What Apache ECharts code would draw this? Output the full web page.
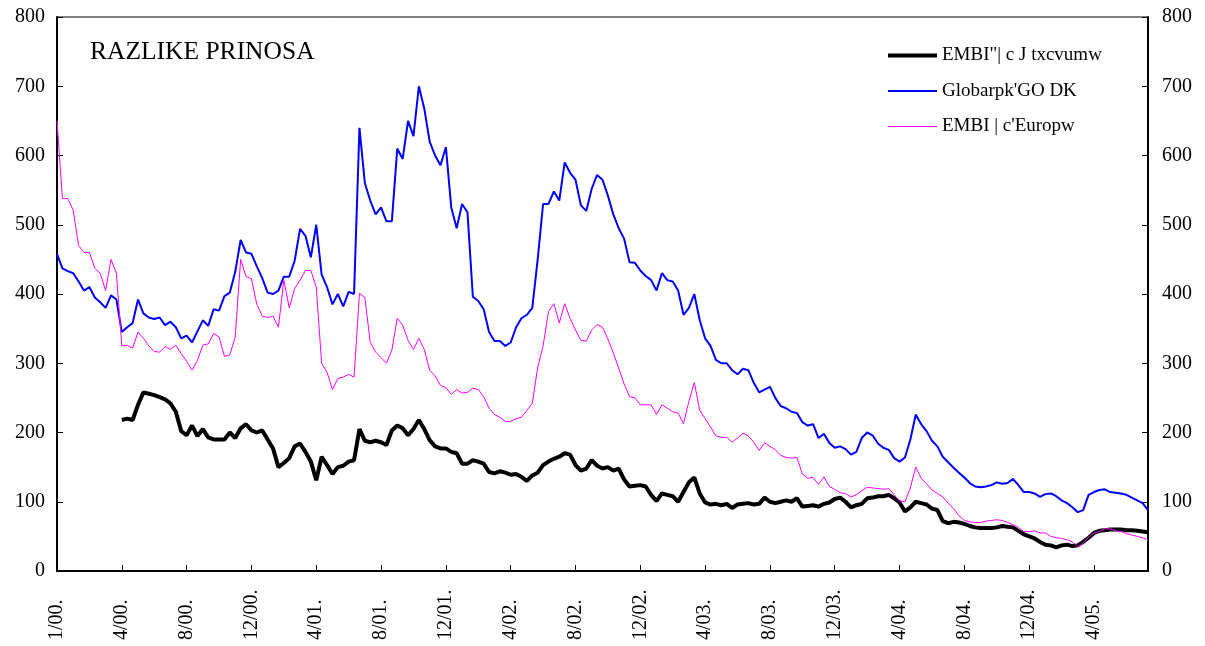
<!DOCTYPE html>
<html>
<head>
<meta charset="utf-8">
<script src="https://cdn.jsdelivr.net/npm/echarts@6/dist/echarts.min.js"></script>
<style>html,body{margin:0;padding:0;background:#fff}#c{width:1205px;height:646px}</style>
</head>
<body>
<div id="c"></div>
<script>
var tickLabels = ["1/00.","4/00.","8/00.","12/00.","4/01.","8/01.","12/01.","4/02.","8/02.","12/02.","4/03.","8/03.","12/03.","4/04.","8/04.","12/04.","4/05."];
var pointsPerTick = 12;
var seriesNames = ["EMBI\"| c J txcvumw", "Globarpk'GO DK", "EMBI | c'Europw"];

var embiGlobal = [null,null,null,null,null,null,null,null,null,null,null,null,
218,220,218,240,258,256,254,251,248,242,230,202,196,210,195,205,193,190,190,190,200,192,206,212,203,200,203,190,177,150,156,163,180,184,172,158,131,165,153,140,150,152,158,160,
205,188,186,188,186,182,203,210,206,196,205,218,205,189,180,177,177,172,170,155,155,160,158,155,143,141,144,142,139,140,136,130,138,142,153,158,162,165,170,168,
153,145,148,160,152,148,150,145,148,132,122,123,124,122,110,101,112,110,108,100,114,128,135,112,99,96,97,95,97,91,96,97,98,96,97,106,100,98,100,102,
100,105,93,94,95,93,97,99,104,106,100,92,95,97,105,106,108,108,110,105,99,86,92,100,98,96,90,88,72,69,71,70,68,65,63,62,62,62,63,65,
64,63,58,53,50,47,42,38,37,34,37,38,36,37,42,48,55,58,59,60,60,60,59,59,58,57,56];

var globalEMBI = [458,437,433,430,418,405,410,395,388,380,398,392,345,352,358,392,372,366,364,366,355,360,352,336,340,330,346,362,354,378,376,397,402,432,478,460,458,440,423,402,
400,405,425,425,448,494,484,453,500,428,410,385,400,382,403,400,640,560,535,515,525,505,505,610,595,650,628,700,668,620,600,586,612,525,495,530,518,396,390,378,
345,332,332,325,330,352,365,370,380,450,530,530,548,535,590,575,565,528,520,552,572,565,542,515,495,480,446,445,434,426,420,405,430,420,418,405,370,380,400,362,
336,325,305,300,300,290,284,292,290,272,258,262,266,250,238,235,230,228,215,210,212,192,198,185,178,180,176,168,172,192,200,196,184,178,175,163,158,164,190,226,
212,202,188,180,165,157,149,142,135,127,122,121,122,124,128,126,127,133,124,114,114,112,107,111,112,108,102,98,92,85,88,110,114,117,118,114,113,112,110,106,
102,98,88];

var embiEurope = [650,538,538,521,470,460,460,437,430,405,450,430,325,326,322,345,336,325,317,316,324,320,326,314,303,290,304,326,328,343,338,310,312,338,450,425,422,385,368,366,
368,352,420,380,408,420,434,434,410,300,287,262,278,280,284,280,401,395,330,316,308,300,319,365,355,333,320,336,320,290,282,268,265,255,262,257,258,264,262,252,
235,226,222,216,216,220,222,232,242,294,325,375,386,358,386,365,348,333,332,348,356,352,335,315,293,270,252,250,240,240,240,226,240,235,230,228,213,245,272,232,
220,208,195,193,193,186,192,199,195,186,174,185,180,175,167,164,163,164,140,134,135,125,136,122,118,113,112,107,110,116,121,120,119,118,119,110,101,100,120,150,
134,126,117,112,107,98,90,80,73,71,70,70,72,73,74,73,70,67,63,57,57,58,55,55,50,48,47,45,42,35,40,49,55,57,61,61,58,57,54,52,
50,48,45];

var categories = [];
for (var i = 0; i < globalEMBI.length; i++) categories.push(String(i));

var serif = "'Liberation Serif','Times New Roman',serif";
var chart = echarts.init(document.getElementById('c'));
var isTick = function (idx) { return idx % pointsPerTick === 0; };

chart.setOption({
  animation: false,
  backgroundColor: '#fff',
  title: {
    text: 'RAZLIKE PRINOSA', left: 85, top: 34,
    textStyle: { fontFamily: serif, fontSize: 25.5, fontWeight: 'normal', color: '#000' }
  },
  legend: {
    orient: 'vertical', left: 886, top: 46, padding: 0,
    itemWidth: 49, itemHeight: 20, itemGap: 16.5,
    itemStyle: { opacity: 0 },
    textStyle: { fontFamily: serif, fontSize: 19, color: '#000', padding: [0, 0, 0, 0] },
    data: [
      { name: seriesNames[0], lineStyle: { width: 4 } },
      { name: seriesNames[1], lineStyle: { width: 2 } },
      { name: seriesNames[2], lineStyle: { width: 1 } }
    ]
  },
  grid: { left: 57, right: 57, top: 17, bottom: 75, show: true, borderColor: '#000', borderWidth: 1 },
  xAxis: {
    type: 'category', data: categories, boundaryGap: false,
    axisLine: { lineStyle: { color: '#000', width: 2 } },
    axisTick: { inside: true, length: 6, interval: function (idx) { return isTick(idx); }, lineStyle: { color: '#000', width: 1 } },
    axisLabel: {
      interval: function (idx) { return isTick(idx); },
      formatter: function (v, idx) { return tickLabels[idx / pointsPerTick] || ''; },
      rotate: 90, align: 'left', verticalAlign: 'middle', margin: 69,
      fontFamily: serif, fontSize: 20, color: '#000'
    },
    splitLine: { show: false }
  },
  yAxis: [
    {
      type: 'value', min: 0, max: 800, interval: 100, position: 'left',
      axisLine: { show: true, lineStyle: { color: '#000', width: 2 } },
      axisTick: { show: true, inside: true, length: 6, lineStyle: { color: '#000' } },
      axisLabel: { fontFamily: serif, fontSize: 20, color: '#000', margin: 12 },
      splitLine: { show: false }
    },
    {
      type: 'value', min: 0, max: 800, interval: 100, position: 'right',
      axisLine: { show: true, lineStyle: { color: '#000', width: 2 } },
      axisTick: { show: true, inside: true, length: 6, lineStyle: { color: '#000' } },
      axisLabel: { fontFamily: serif, fontSize: 20, color: '#000', margin: 14 },
      splitLine: { show: false }
    }
  ],
  series: [
    { name: seriesNames[0], type: 'line', data: embiGlobal, symbol: 'none', connectNulls: false,
      lineStyle: { color: '#000', width: 4 }, itemStyle: { color: '#000' } },
    { name: seriesNames[1], type: 'line', data: globalEMBI, symbol: 'none',
      lineStyle: { color: '#0000ff', width: 2 }, itemStyle: { color: '#0000ff' } },
    { name: seriesNames[2], type: 'line', data: embiEurope, symbol: 'none',
      lineStyle: { color: '#ff00ff', width: 1 }, itemStyle: { color: '#ff00ff' } }
  ]
});
</script>
</body>
</html>
